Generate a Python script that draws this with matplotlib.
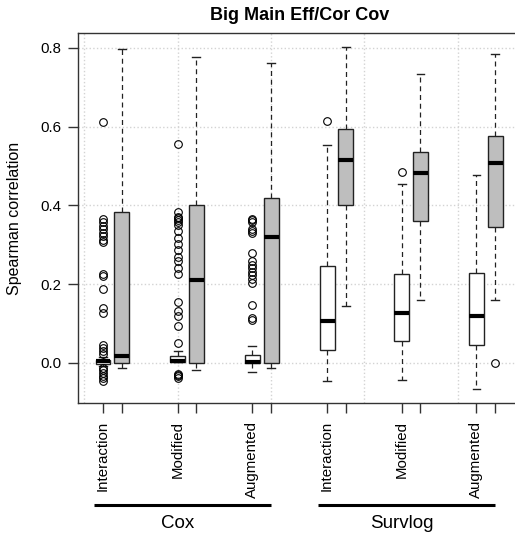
import matplotlib

matplotlib.use("Agg")

import matplotlib.pyplot as plt
import matplotlib.transforms as mtransforms

plt.rcParams["font.family"] = ["Liberation Sans", "DejaVu Sans"]

# one entry per box, ordered Cox (Interaction, Modified, Augmented) then Survlog,
# each method drawn as a white/grey pair
models = ["Cox", "Survlog"]
methods = ["Interaction", "Modified", "Augmented"]

box_q1 = [-0.002, 0.000, 0.002, 0.000, 0.000, 0.000,
          0.034, 0.402, 0.055, 0.361, 0.046, 0.346]
box_med = [0.004, 0.017, 0.004, 0.210, 0.003, 0.320,
           0.106, 0.515, 0.126, 0.483, 0.119, 0.508]
box_q3 = [0.008, 0.383, 0.017, 0.402, 0.021, 0.418,
          0.247, 0.595, 0.226, 0.535, 0.229, 0.577]
whisk_lo = [-0.008, -0.013, 0.002, -0.018, -0.024, -0.013,
            -0.047, 0.144, -0.042, 0.161, -0.066, 0.161]
whisk_hi = [0.016, 0.797, 0.030, 0.777, 0.042, 0.762,
            0.553, 0.803, 0.455, 0.733, 0.477, 0.784]
outliers = [
    [0.611, 0.366, 0.358, 0.349, 0.340, 0.331, 0.322, 0.313, 0.306, 0.227,
     0.222, 0.188, 0.140, 0.127, 0.046, 0.039, 0.030, 0.022,
     -0.012, -0.018, -0.025, -0.032, -0.038, -0.045],
    [],
    [0.555, 0.383, 0.372, 0.367, 0.362, 0.357, 0.350, 0.334, 0.318, 0.302,
     0.286, 0.270, 0.258, 0.242, 0.227, 0.154, 0.131, 0.120, 0.093, 0.051,
     -0.028, -0.031, -0.034, -0.037],
    [],
    [0.366, 0.362, 0.357, 0.341, 0.336, 0.331, 0.279, 0.258, 0.250, 0.241,
     0.232, 0.224, 0.213, 0.204, 0.148, 0.114, 0.110],
    [],
    [0.614],
    [],
    [0.485],
    [],
    [],
    [0.000],
]
box_fill = ["white", "#bebebe"] * 6

positions = []
for g in range(6):
    positions += [g * 4 + 1, g * 4 + 2]

stats = []
for i in range(len(positions)):
    stats.append({
        "q1": box_q1[i], "med": box_med[i], "q3": box_q3[i],
        "whislo": whisk_lo[i], "whishi": whisk_hi[i], "fliers": outliers[i],
    })

fig = plt.figure(figsize=(5.15, 5.33), dpi=100)
ax = fig.add_axes([78 / 515, 130 / 533, 444 / 515, 370 / 533])

for v in range(0, 26, 5):
    ax.axvline(v, color="#d3d3d3", ls=":", lw=1, zorder=0)
for h in [0.0, 0.2, 0.4, 0.6, 0.8]:
    ax.axhline(h, color="#d3d3d3", ls=":", lw=1, zorder=0)

parts = ax.bxp(
    stats,
    positions=positions,
    widths=0.8,
    capwidths=0.42,
    patch_artist=True,
    boxprops=dict(edgecolor="#222222", linewidth=1.0),
    whiskerprops=dict(color="#222222", linewidth=0.9, linestyle=(0, (4, 3))),
    capprops=dict(color="#222222", linewidth=1.0),
    medianprops=dict(color="black", linewidth=3.0, solid_capstyle="butt"),
    flierprops=dict(marker="o", markerfacecolor="none", markeredgecolor="black",
                    markersize=5.5, markeredgewidth=0.8),
)
for patch, fill in zip(parts["boxes"], box_fill):
    patch.set_facecolor(fill)

ax.set_xlim(-0.34, 23.44)
ax.set_ylim(-0.1016, 0.838)
ax.set_yticks([0.0, 0.2, 0.4, 0.6, 0.8])
ax.set_yticklabels(["0.0", "0.2", "0.4", "0.6", "0.8"], fontsize=10.8)

ax.set_xticks(positions)
tick_labels = []
for m in models:
    for name in methods:
        tick_labels += [name, ""]
ax.set_xticklabels(tick_labels, rotation=90, fontsize=10.8)
ax.tick_params(axis="both", direction="out", length=7, width=1, color="#333333")
ax.tick_params(axis="x", pad=6)
ax.tick_params(axis="y", pad=5)

for s in ax.spines.values():
    s.set_color("#333333")
    s.set_linewidth(1.0)

ax.set_ylabel("Spearman correlation", fontsize=11.5)
ax.yaxis.set_label_coords(-0.126, 0.5)
ax.set_title("Big Main Eff/Cor Cov", fontsize=13, fontweight="bold", pad=9)

trans = mtransforms.blended_transform_factory(ax.transData, ax.transAxes)
group_spans = [(0.5, 10.0), (12.5, 22.0)]
group_centers = [5.0, 17.0]
for name, (x0, x1), xc in zip(models, group_spans, group_centers):
    ax.plot([x0, x1], [-0.2757, -0.2757], transform=trans, color="black",
            lw=2.2, clip_on=False, solid_capstyle="butt")
    ax.text(xc, -0.325, name, transform=trans, ha="center", va="center",
            fontsize=13.5)

fig.savefig("out.png", dpi=100)
